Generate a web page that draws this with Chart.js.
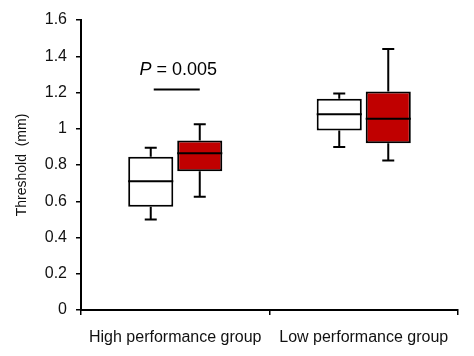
<!DOCTYPE html>
<html>
<head>
<meta charset="utf-8">
<script src="https://cdn.jsdelivr.net/npm/chart.js@4"></script>
<style>
html,body{margin:0;padding:0;background:#fff;}
#wrap{width:474px;height:356px;}
</style>
</head>
<body>
<div id="wrap"><canvas id="c" width="474" height="356"></canvas></div>
<script>
const categories = ['High performance group', 'Low performance group'];
const yTicks = [0, 0.2, 0.4, 0.6, 0.8, 1, 1.2, 1.4, 1.6];

// Series 1 (white boxes)
const whiteMin    = [0.50, 0.90];
const whiteQ1     = [0.57, 0.99];
const whiteMedian = [0.71, 1.08];
const whiteQ3     = [0.845, 1.165];
const whiteMax    = [0.895, 1.195];

// Series 2 (red boxes)
const redMin    = [0.625, 0.825];
const redQ1     = [0.765, 0.92];
const redMedian = [0.865, 1.055];
const redQ3     = [0.935, 1.205];
const redMax    = [1.025, 1.44];

// Significance annotation (High performance group)
const sigCategoryIndex = 0;
const sigLineValue = 1.217;
const sigTextValue = 1.324;
const sigLabelItalic = 'P';
const sigLabelRest = ' = 0.005';

const stats = [
  {min: whiteMin, q1: whiteQ1, med: whiteMedian, q3: whiteQ3, max: whiteMax},
  {min: redMin, q1: redQ1, med: redMedian, q3: redQ3, max: redMax}
];

const boxPlugin = {
  id: 'boxWhiskers',
  afterDatasetsDraw(chart) {
    const ctx = chart.ctx;
    const y = chart.scales.y;
    ctx.save();
    ctx.strokeStyle = '#000';
    ctx.lineWidth = 2;
    ctx.lineCap = 'butt';
    chart.data.datasets.forEach((ds, di) => {
      const meta = chart.getDatasetMeta(di);
      const s = stats[di];
      meta.data.forEach((bar, i) => {
        const x = bar.x;
        const w = bar.width;
        const capHalf = 6;
        const yMin = y.getPixelForValue(s.min[i]);
        const yQ1 = y.getPixelForValue(s.q1[i]);
        const yMed = y.getPixelForValue(s.med[i]);
        const yQ3 = y.getPixelForValue(s.q3[i]);
        const yMax = y.getPixelForValue(s.max[i]);
        ctx.beginPath();
        ctx.moveTo(x, yQ3); ctx.lineTo(x, yMax);
        ctx.moveTo(x - capHalf, yMax); ctx.lineTo(x + capHalf, yMax);
        ctx.moveTo(x, yQ1); ctx.lineTo(x, yMin);
        ctx.moveTo(x - capHalf, yMin); ctx.lineTo(x + capHalf, yMin);
        ctx.moveTo(x - w / 2, yMed); ctx.lineTo(x + w / 2, yMed);
        ctx.stroke();
      });
    });
    // significance line + text
    const b0 = chart.getDatasetMeta(0).data[sigCategoryIndex];
    const b1 = chart.getDatasetMeta(1).data[sigCategoryIndex];
    const ly = y.getPixelForValue(sigLineValue);
    ctx.beginPath();
    ctx.moveTo(b0.x + 3, ly); ctx.lineTo(b1.x, ly);
    ctx.stroke();
    const ty = y.getPixelForValue(sigTextValue);
    ctx.fillStyle = '#000';
    ctx.textBaseline = 'middle';
    const fItalic = 'italic 18px "Liberation Sans", Arial, sans-serif';
    const fNormal = '18px "Liberation Sans", Arial, sans-serif';
    ctx.font = fItalic;
    const w1 = ctx.measureText(sigLabelItalic).width;
    ctx.font = fNormal;
    const w2 = ctx.measureText(sigLabelRest).width;
    const cx = (b0.x + b1.x) / 2 + 3;
    const startX = cx - (w1 + w2) / 2;
    ctx.textAlign = 'left';
    ctx.font = fItalic;
    ctx.fillText(sigLabelItalic, startX, ty);
    ctx.font = fNormal;
    ctx.fillText(sigLabelRest, startX + w1, ty);
    ctx.restore();
  }
};

new Chart(document.getElementById('c'), {
  type: 'bar',
  data: {
    labels: categories,
    datasets: [
      {
        label: 'Series 1',
        data: whiteQ1.map((v, i) => [v, whiteQ3[i]]),
        backgroundColor: '#ffffff',
        borderColor: '#000000',
        borderWidth: 2,
        borderSkipped: false,
        barPercentage: 0.92,
        categoryPercentage: 0.52
      },
      {
        label: 'Series 2',
        data: redQ1.map((v, i) => [v, redQ3[i]]),
        backgroundColor: '#c00000',
        borderColor: '#000000',
        borderWidth: 2,
        borderSkipped: false,
        barPercentage: 0.92,
        categoryPercentage: 0.52
      }
    ]
  },
  options: {
    responsive: false,
    animation: false,
    layout: {padding: {left: 0, right: 16, top: 20, bottom: 0}},
    plugins: {legend: {display: false}, tooltip: {enabled: false}},
    scales: {
      x: {
        grid: {display: true, drawOnChartArea: false, drawTicks: true, tickLength: 5, color: '#000', lineWidth: 1.5, offset: true},
        border: {display: true, color: '#000', width: 2},
        ticks: {color: '#111', font: {size: 16, family: '"Liberation Sans", Arial, sans-serif'}, padding: 13, maxRotation: 0},
        afterFit(s) { s.height = 46; }
      },
      y: {
        min: 0, max: 1.6,
        afterBuildTicks(s) { s.ticks = yTicks.map(v => ({value: v})); },
        grid: {display: true, drawOnChartArea: false, drawTicks: true, tickLength: 5, color: '#000', lineWidth: 1.5},
        border: {display: true, color: '#000', width: 2},
        ticks: {color: '#111', font: {size: 16, family: '"Liberation Sans", Arial, sans-serif'}, padding: 9,
          callback: (v) => String(+Number(v).toFixed(1))},
        title: {display: true, text: 'Threshold  (mm)', color: '#111', font: {size: 14, family: '"Liberation Sans", Arial, sans-serif'}, padding: {top: 14, bottom: 0}},
        afterFit(s) { s.width = 81; }
      }
    }
  },
  plugins: [boxPlugin]
});
</script>
</body>
</html>
